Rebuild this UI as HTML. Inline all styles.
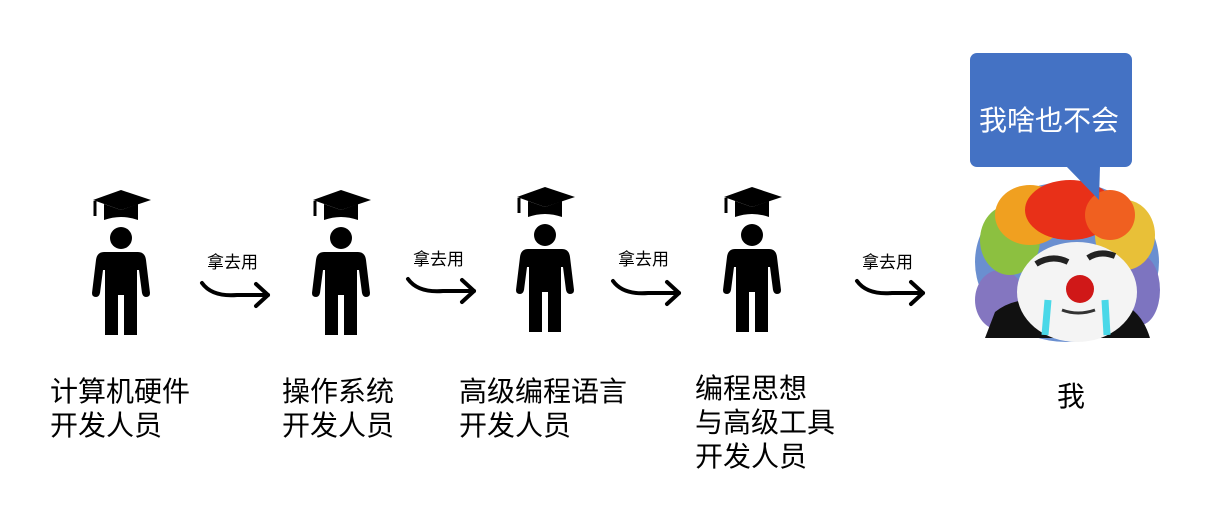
<!DOCTYPE html>
<html><head><meta charset="utf-8"><style>
html,body{margin:0;padding:0;background:#fff;}
body{width:1211px;height:522px;overflow:hidden;position:relative;font-family:"Liberation Sans","Noto Sans CJK SC",sans-serif;}
.t{position:absolute;font-size:28px;line-height:34px;color:#000;white-space:nowrap;font-family:"Liberation Sans","Noto Sans CJK SC",sans-serif;}
.s{position:absolute;font-size:17px;color:#000;font-family:"Liberation Sans","Noto Sans CJK SC",sans-serif;}
</style></head><body>
<svg width="1211" height="522" style="position:absolute;left:0;top:0">
<defs>
<g id="p">
<polygon points="-28,10 0,0 30,10 0,20" fill="#000"/>
<path d="M-17,14 L-17,30 Q0,24 17,30 L17,14 L0,20 Z" fill="#000"/>
<line x1="-26" y1="11" x2="-26" y2="26" stroke="#000" stroke-width="3"/>
<circle cx="0" cy="48" r="11" fill="#000"/>
<path d="M-17,62 L17,62 Q24,62 25,70 L29,103 Q29,107 25,107 Q22,107 21,103 L18,80 L16,80 L16,145 L3,145 L3,105 L-3,105 L-3,145 L-16,145 L-16,80 L-18,80 L-21,103 Q-22,107 -25,107 Q-29,107 -29,103 L-25,70 Q-24,62 -17,62 Z" fill="#000"/>
</g>
<g id="a">
<path d="M0,0 Q10,14 35,12 L66,12" fill="none" stroke="#000" stroke-width="4" stroke-linecap="round"/>
<path d="M54,1 L66,12 L54,23" fill="none" stroke="#000" stroke-width="4" stroke-linecap="round" stroke-linejoin="round"/>
</g>
</defs>
<use href="#p" x="121" y="190"/>
<use href="#p" x="341" y="190"/>
<use href="#p" x="545" y="187"/>
<use href="#p" x="752" y="187"/>
<use href="#a" x="202" y="283"/>
<use href="#a" x="408" y="279"/>
<use href="#a" x="613" y="281"/>
<use href="#a" x="857" y="281"/>
<!-- clown -->
<ellipse cx="1067" cy="262" rx="92" ry="80" fill="#6a8fd0"/>
<ellipse cx="1000" cy="300" rx="25" ry="30" fill="#8476c0"/>
<ellipse cx="1140" cy="290" rx="20" ry="35" fill="#7d74c0"/>
<ellipse cx="1010" cy="240" rx="30" ry="35" fill="#8cc040"/>
<ellipse cx="1125" cy="235" rx="30" ry="35" fill="#e8c038"/>
<ellipse cx="1030" cy="215" rx="35" ry="30" fill="#f0a020"/>
<ellipse cx="1070" cy="210" rx="45" ry="30" fill="#e83018"/>
<ellipse cx="1110" cy="215" rx="25" ry="25" fill="#f06020"/>
<path d="M985,338 L995,312 Q1010,300 1030,300 L1110,300 Q1140,305 1150,338 Z" fill="#111"/>
<ellipse cx="1077" cy="292" rx="60" ry="50" fill="#f4f4f4"/>
<path d="M1036,264 Q1052,254 1068,262" stroke="#222" stroke-width="6" fill="none"/>
<path d="M1088,258 Q1100,250 1115,256" stroke="#222" stroke-width="6" fill="none"/>
<path d="M1048,300 L1045,335" stroke="#4ad8e8" stroke-width="7"/>
<path d="M1105,300 L1107,335" stroke="#4ad8e8" stroke-width="7"/>
<path d="M1062,310 Q1078,316 1095,310" stroke="#333" stroke-width="3" fill="none"/>
<circle cx="1080" cy="289" r="14" fill="#d01818"/>
<!-- bubble -->
<rect x="970" y="53" width="162" height="114" rx="7" fill="#4472c4"/>
<polygon points="1066,166 1100,166 1099,200" fill="#4472c4"/>
</svg>
<div class="s" style="left:207px;top:248px">拿去用</div>
<div class="s" style="left:413px;top:245px">拿去用</div>
<div class="s" style="left:618px;top:245px">拿去用</div>
<div class="s" style="left:862px;top:248px">拿去用</div>
<div class="t" style="left:50px;top:375px">计算机硬件<br>开发人员</div>
<div class="t" style="left:282px;top:375px">操作系统<br>开发人员</div>
<div class="t" style="left:459px;top:375px">高级编程语言<br>开发人员</div>
<div class="t" style="left:695px;top:372px">编程思想<br>与高级工具<br>开发人员</div>
<div class="t" style="left:1057px;top:380px">我</div>
<div class="t" style="left:979px;top:104px;color:#fff;font-size:28px">我啥也不会</div>
</body></html>
